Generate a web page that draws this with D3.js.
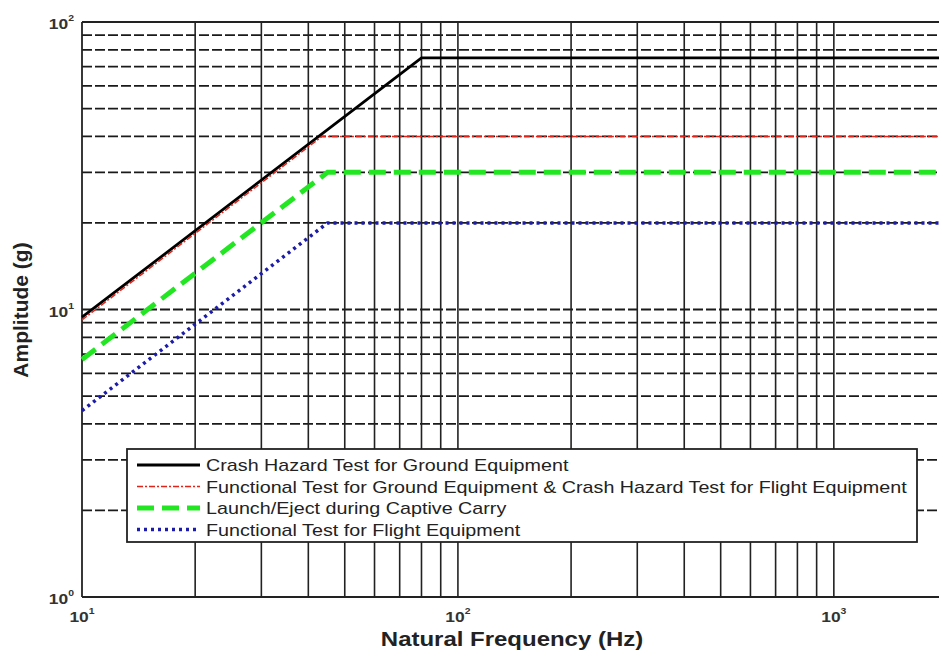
<!DOCTYPE html>
<html>
<head>
<meta charset="utf-8">
<script src="https://cdn.jsdelivr.net/npm/d3@7"></script>
<style>
  body { margin: 0; background: #fff; }
  text { font-family: "Liberation Sans", Arial, sans-serif; }
</style>
</head>
<body>
<script>
var width = 939,
  height = 655;
var margin = { top: 22, bottom: 58, left: 82, right: -8 };
var stretch = 1.16; // the picture is a little wider than tall

// data (frequency Hz, amplitude g)
var seriesNames = [
  "Crash Hazard Test for Ground Equipment",
  "Functional Test for Ground Equipment & Crash Hazard Test for Flight Equipment",
  "Launch/Eject during Captive Carry",
  "Functional Test for Flight Equipment"
];
var crashGround = [[10, 9.4], [80, 75], [2000, 75]];
var funcGround = [[10, 9.2], [43.5, 40], [2000, 40]];
var launchEject = [[10, 6.7], [45, 30], [2000, 30]];
var funcFlight = [[10, 4.45], [45, 20], [2000, 20]];
var xDecades = [10, 100, 1000];
var yDecades = [1, 10, 100];

var styles = [
  { color: "#000000", w: 2.8, dash: null },
  { color: "#e2231a", w: 1.5, dash: "6,2,2,2" },
  { color: "#22e622", w: 5, dash: "17,8" },
  { color: "#1c1ca8", w: 3.5, dash: "3,4" }
];
var allSeries = [crashGround, funcGround, launchEject, funcFlight];

var svg = d3.select('body')
  .append('svg')
  .attr('width', width)
  .attr('height', height)
  .style('background', '#fff');

var xScale = d3.scaleLog()
  .domain([10, 2000])
  .range([margin.left, width - margin.right]);

var yScale = d3.scaleLog()
  .domain([1, 100])
  .range([height - margin.bottom, margin.top]);

// grid
var xGrid = [];
var yGrid = [];
[10, 100, 1000].forEach(function(d) {
  for (var k = 1; k <= 9; k++) xGrid.push(d * k);
});
[1, 10].forEach(function(d) {
  for (var k = 1; k <= 9; k++) yGrid.push(d * k);
});
xGrid = xGrid.filter(function(v) { return v > 10 && v <= 2000; });
yGrid = yGrid.filter(function(v) { return v > 1 && v < 100; });

svg.append('g')
  .selectAll('line')
  .data(yGrid)
  .enter()
  .append('line')
  .attr('x1', margin.left)
  .attr('x2', width)
  .attr('y1', function(d) { return yScale(d); })
  .attr('y2', function(d) { return yScale(d); })
  .attr('stroke', '#1a1a1a')
  .attr('stroke-width', 1.8)
  .attr('stroke-dasharray', '10,3');

svg.append('g')
  .selectAll('line')
  .data(xGrid)
  .enter()
  .append('line')
  .attr('x1', function(d) { return xScale(d); })
  .attr('x2', function(d) { return xScale(d); })
  .attr('y1', yScale(1))
  .attr('y2', yScale(100))
  .attr('stroke', '#222')
  .attr('stroke-width', 1.6);

// frame
svg.append('line')
  .attr('x1', margin.left).attr('x2', width)
  .attr('y1', yScale(100)).attr('y2', yScale(100))
  .attr('stroke', '#222').attr('stroke-width', 1.8);
svg.append('line')
  .attr('x1', margin.left).attr('x2', width)
  .attr('y1', yScale(1)).attr('y2', yScale(1))
  .attr('stroke', '#222').attr('stroke-width', 1.8);
svg.append('line')
  .attr('x1', margin.left).attr('x2', margin.left)
  .attr('y1', yScale(1)).attr('y2', yScale(100))
  .attr('stroke', '#222').attr('stroke-width', 1.8);

// series
var line = d3.line()
  .x(function(d) { return xScale(d[0]); })
  .y(function(d) { return yScale(d[1]); });

allSeries.forEach(function(s, i) {
  svg.append('path')
    .datum(s)
    .attr('d', line)
    .attr('fill', 'none')
    .attr('stroke', styles[i].color)
    .attr('stroke-width', styles[i].w)
    .attr('stroke-dasharray', styles[i].dash);
});

// tick labels
function powLabel(g, x, y, exp, anchor) {
  var t = g.append('text')
    .attr('transform', 'translate(' + x + ',' + y + ') scale(' + stretch + ',1)')
    .attr('text-anchor', anchor)
    .attr('font-size', 15)
    .attr('font-weight', 'bold')
    .attr('fill', '#333');
  t.append('tspan').text('10');
  t.append('tspan').attr('dy', -8).attr('font-size', 9).text(exp);
}
var tickG = svg.append('g');
xDecades.forEach(function(d) {
  powLabel(tickG, xScale(d), height - margin.bottom + 25, Math.log10(d), 'middle');
});
yDecades.forEach(function(d) {
  powLabel(tickG, 74, yScale(d) + 7, Math.log10(d), 'end');
});

// axis titles
svg.append('text')
  .attr('transform', 'translate(512,646) scale(1.23,1)')
  .attr('text-anchor', 'middle')
  .attr('font-size', 19.5)
  .attr('font-weight', 'bold')
  .attr('fill', '#222')
  .text('Natural Frequency (Hz)');

svg.append('text')
  .attr('transform', 'translate(28,310) rotate(-90)')
  .attr('text-anchor', 'middle')
  .attr('font-size', 21)
  .attr('font-weight', 'bold')
  .attr('fill', '#222')
  .text('Amplitude (g)');

// legend
var legend = svg.append('g');
legend.append('rect')
  .attr('x', 127)
  .attr('y', 449)
  .attr('width', 790)
  .attr('height', 93)
  .attr('fill', '#fff')
  .attr('stroke', '#222')
  .attr('stroke-width', 1.8);

seriesNames.forEach(function(name, i) {
  var y = 465 + i * 21.5;
  legend.append('line')
    .attr('x1', 137).attr('x2', 200)
    .attr('y1', y).attr('y2', y)
    .attr('stroke', styles[i].color)
    .attr('stroke-width', styles[i].w)
    .attr('stroke-dasharray', styles[i].dash);
  legend.append('text')
    .attr('transform', 'translate(206,' + (y + 6) + ') scale(' + stretch + ',1)')
    .attr('font-size', 17)
    .attr('fill', '#222')
    .text(name);
});
</script>
</body>
</html>
